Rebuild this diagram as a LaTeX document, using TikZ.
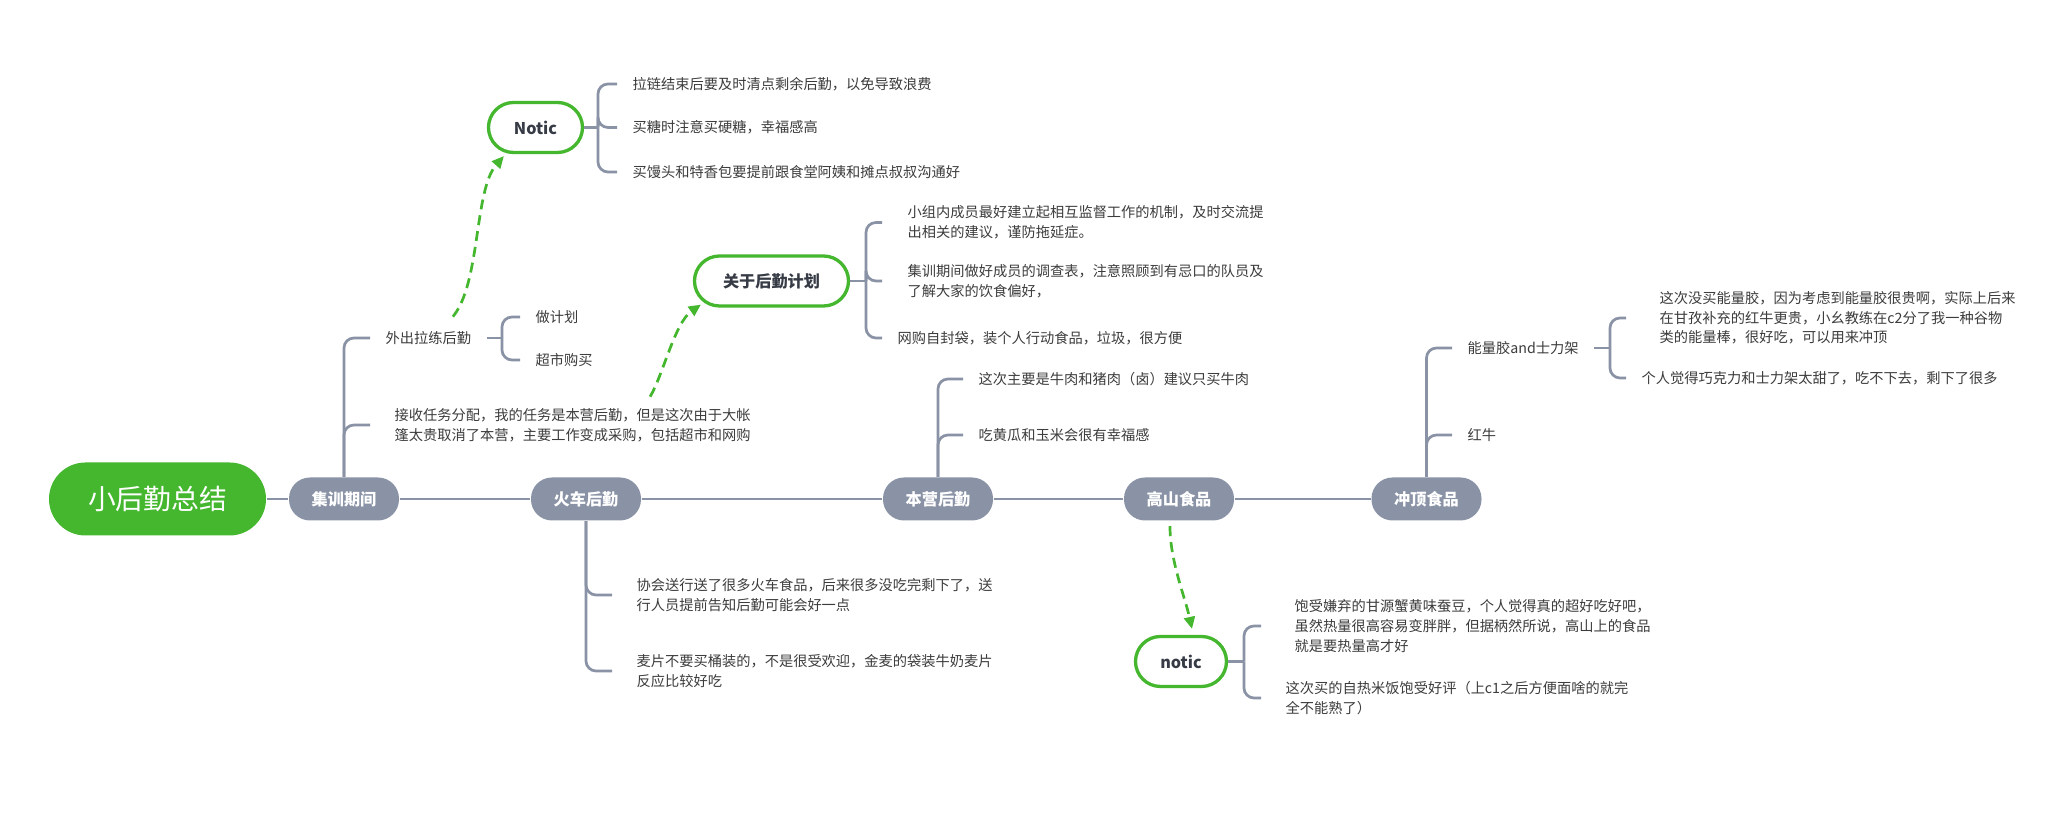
\documentclass[tikz,border=0pt]{standalone}
\usepackage{fontspec}
\setmainfont{Noto Sans CJK SC}
\usetikzlibrary{arrows.meta}

\definecolor{mindgreen}{HTML}{44B72F}
\definecolor{topicgray}{HTML}{8A93A6}
\definecolor{linegray}{HTML}{8A93A6}
\definecolor{leaftext}{HTML}{3C3C3C}
\definecolor{notetext}{HTML}{363B45}

\newcommand{\leaffont}{\fontsize{4.05}{5.6}\selectfont}
\newcommand{\topicfont}{\fontsize{4.6}{5.6}\selectfont\bfseries}
\newcommand{\rootfont}{\fontsize{7.9}{9}\selectfont}

\tikzset{
  rootnode/.style={fill=mindgreen, text=white, font=\rootfont, rounded corners=0.365cm,
    minimum width=2.17cm, minimum height=0.73cm, inner sep=0pt},
  topic/.style={fill=topicgray, text=white, font=\topicfont, rounded corners=0.21cm,
    minimum width=1.10cm, minimum height=0.43cm, inner sep=0pt},
  notebox/.style={draw=mindgreen, line width=0.94pt, fill=white, text=notetext, font=\topicfont,
    rounded corners=0.25cm, minimum height=0.50cm, inner sep=0pt},
  leaf/.style={anchor=west, inner xsep=0.15cm, inner ysep=0pt, align=left, text=leaftext, font=\leaffont},
  conn/.style={draw=linegray, line width=0.77pt},
  elbow/.style={conn, rounded corners=0.1cm},
  hint/.style={draw=mindgreen, line width=0.77pt, dash pattern=on 0.1cm off 0.06cm,
    -{Triangle[length=0.12cm,width=0.11cm]}}
}

\begin{document}
\begin{tikzpicture}
    \fill[white] (0,0) rectangle (20.48,8.23);
    \useasboundingbox (0,0) rectangle (20.48,8.23);
    % main line
    \node[rootnode] (root) at (1.575,3.24) {小后勤总结};
    \node[topic] (jx) at (3.44,3.24) {集训期间};
    \node[topic] (hc) at (5.86,3.24) {火车后勤};
    \node[topic] (by) at (9.38,3.24) {本营后勤};
    \node[topic] (gs) at (11.79,3.24) {高山食品};
    \node[topic] (cd) at (14.265,3.24) {冲顶食品};
    \draw[conn] (root) -- (jx) -- (hc) -- (by) -- (gs) -- (cd);

    % 集训期间
    \node[leaf] (wc) at (3.70,4.85) {外出拉练后勤};
    \node[leaf,inner xsep=0.24cm] (js) at (3.70,3.98) {接收任务分配，我的任务是本营后勤，但是这次由于大帐\\篷太贵取消了本营，主要工作变成采购，包括超市和网购};
    \draw[elbow] (jx.north) |- (wc.west);
    \draw[elbow] (jx.north) |- (js.west);
    \coordinate (wcb) at (5.02,4.85);
    \node[leaf] (zj) at (5.20,5.06) {做计划};
    \node[leaf] (cs) at (5.20,4.63) {超市购买};
    \draw[conn] (wc.east) -- (wcb);
    \draw[elbow] (wcb) |- (zj.west);
    \draw[elbow] (wcb) |- (cs.west);

    % Notic
    \node[notebox,minimum width=0.94cm] (nt) at (5.355,6.955) {Notic};
    \coordinate (ntb) at (5.98,6.955);
    \node[leaf] (n1) at (6.17,7.39) {拉链结束后要及时清点剩余后勤，以免导致浪费};
    \node[leaf] (n2) at (6.17,6.955) {买糖时注意买硬糖，幸福感高};
    \node[leaf] (n3) at (6.17,6.51) {买馒头和特香包要提前跟食堂阿姨和摊点叔叔沟通好};
    \draw[conn] (nt.east) -- (ntb);
    \foreach \n in {n1,n2,n3} \draw[elbow] (ntb) |- (\n.west);
    \draw[hint] ([xshift=0.245cm,yshift=0.14cm]wc.north) .. controls +(0.28,0.34) and +(-0.30,-0.34) .. ([xshift=0.17cm,yshift=-0.02cm]nt.south west);

    % 关于后勤计划
    \node[notebox,minimum width=1.54cm] (gh) at (7.715,5.42) {关于后勤计划};
    \coordinate (ghb) at (8.66,5.42);
    \node[leaf,inner xsep=0.25cm] (g1) at (8.82,6.005) {小组内成员最好建立起相互监督工作的机制，及时交流提\\出相关的建议，谨防拖延症。};
    \node[leaf,inner xsep=0.25cm] (g2) at (8.82,5.42) {集训期间做好成员的调查表，注意照顾到有忌口的队员及\\了解大家的饮食偏好，};
    \node[leaf] (g3) at (8.82,4.85) {网购自封袋，装个人行动食品，垃圾，很方便};
    \draw[conn] (gh.east) -- (ghb);
    \foreach \n in {g1,g2,g3} \draw[elbow] (ghb) |- (\n.west);
    \draw[hint] ([xshift=0.775cm,yshift=0.11cm]js.north) .. controls +(0.13,0.22) and +(-0.26,-0.18) .. ([xshift=0.08cm,yshift=0.03cm]gh.south west);

    % 火车后勤
    \node[leaf,inner xsep=0.24cm] (h1) at (6.12,2.28) {协会送行送了很多火车食品，后来很多没吃完剩下了，送\\行人员提前告知后勤可能会好一点};
    \node[leaf,inner xsep=0.24cm] (h2) at (6.12,1.52) {麦片不要买桶装的，不是很受欢迎，金麦的袋装牛奶麦片\\反应比较好吃};
    \draw[elbow] (hc.south) |- (h1.west);
    \draw[elbow] (hc.south) |- (h2.west);

    % 本营后勤
    \node[leaf] (b1) at (9.63,4.44) {这次主要是牛肉和猪肉（卤）建议只买牛肉};
    \node[leaf] (b2) at (9.63,3.88) {吃黄瓜和玉米会很有幸福感};
    \draw[elbow] (by.north) |- (b1.west);
    \draw[elbow] (by.north) |- (b2.west);

    % 高山食品
    \node[notebox,minimum width=0.91cm] (nt2) at (11.81,1.615) {notic};
    \coordinate (nt2b) at (12.44,1.615);
    \node[leaf,inner xsep=0.33cm] (s1) at (12.61,1.97) {饱受嫌弃的甘源蟹黄味蚕豆，个人觉得真的超好吃好吧，\\虽然热量很高容易变胖胖，但据柄然所说，高山上的食品\\就是要热量高才好};
    \node[leaf,inner xsep=0.24cm] (s2) at (12.61,1.25) {这次买的自热米饭饱受好评（上c1之后方便面啥的就完\\全不能熟了）};
    \draw[conn] (nt2.east) -- (nt2b);
    \foreach \n in {s1,s2} \draw[elbow] (nt2b) |- (\n.west);
    \draw[hint] ([xshift=-0.09cm,yshift=-0.05cm]gs.south) .. controls +(0,-0.35) and +(-0.07,0.32) .. ([xshift=0.11cm,yshift=0.06cm]nt2.north);

    % 冲顶食品
    \node[leaf] (c1) at (14.52,4.75) {能量胶and士力架};
    \node[leaf] (c2) at (14.52,3.88) {红牛};
    \draw[elbow] (cd.north) |- (c1.west);
    \draw[elbow] (cd.north) |- (c2.west);
    \coordinate (c1b) at (16.10,4.75);
    \node[leaf,inner xsep=0.33cm] (e1) at (16.26,5.05) {这次没买能量胶，因为考虑到能量胶很贵啊，实际上后来\\在甘孜补充的红牛更贵，小幺教练在c2分了我一种谷物\\类的能量棒，很好吃，可以用来冲顶};
    \node[leaf] (e2) at (16.26,4.45) {个人觉得巧克力和士力架太甜了，吃不下去，剩下了很多};
    \draw[conn] (c1.east) -- (c1b);
    \foreach \n in {e1,e2} \draw[elbow] (c1b) |- (\n.west);
\end{tikzpicture}
\end{document}
